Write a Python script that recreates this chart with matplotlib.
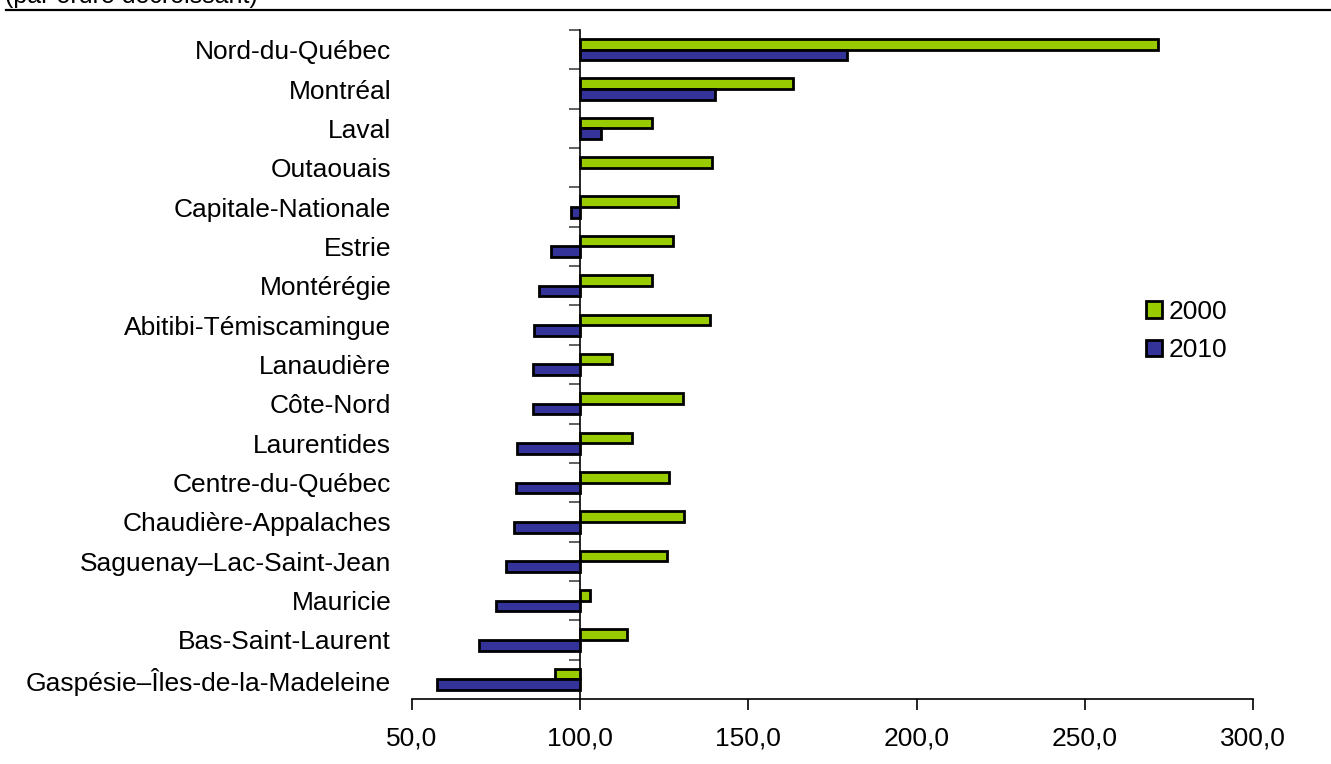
import numpy as np
import matplotlib
matplotlib.use("Agg")
import matplotlib.pyplot as plt
from matplotlib.lines import Line2D
from matplotlib.patches import Patch
from matplotlib.ticker import FuncFormatter

regions = [
    "Nord-du-Québec", "Montréal", "Laval", "Outaouais", "Capitale-Nationale",
    "Estrie", "Montérégie", "Abitibi-Témiscamingue", "Lanaudière", "Côte-Nord",
    "Laurentides", "Centre-du-Québec", "Chaudière-Appalaches",
    "Saguenay–Lac-Saint-Jean", "Mauricie", "Bas-Saint-Laurent",
    "Gaspésie–Îles-de-la-Madeleine",
]
val_2000 = [271.7, 163.4, 121.4, 139.1, 129.0, 127.5, 121.2, 138.6, 109.4,
            130.7, 115.4, 126.5, 130.9, 125.9, 102.8, 114.0, 92.4]
val_2010 = [179.2, 140.1, 106.1, np.nan, 97.2, 91.3, 87.9, 86.2, 86.1,
            85.9, 81.2, 80.8, 80.4, 77.9, 75.1, 70.0, 57.4]
series_labels = ["2000", "2010"]
xticks = [50, 100, 150, 200, 250, 300]
base = 100.0

green = "#99CC00"
blue = "#333399"

plt.rcParams["font.family"] = ["Liberation Sans", "DejaVu Sans"]

W, H = 1331, 764
fig = plt.figure(figsize=(W / 100, H / 100), dpi=100)
ax = fig.add_axes([412 / W, 1 - 699 / H, (1253 - 412) / W, (699 - 30) / H])

y = np.arange(len(regions))
h = 0.27
off = 0.135
v0 = np.array(val_2000)
v1 = np.array(val_2010)
ax.barh(y - off, v0 - base, left=base, height=h, color=green,
        edgecolor="black", linewidth=2.0)
ax.barh(y + off, v1 - base, left=base, height=h, color=blue,
        edgecolor="black", linewidth=2.0)

ax.set_xlim(50, 300)
ax.set_ylim(len(regions) - 0.5, -0.5)

ax.set_xticks(xticks)
ax.xaxis.set_major_formatter(FuncFormatter(lambda v, p: f"{v:.1f}".replace(".", ",")))
ax.tick_params(axis="x", direction="out", length=8, width=1.2, pad=12,
               labelsize=19, colors="black")

ax.set_yticks(y)
ax.set_yticklabels(regions)
ax.tick_params(axis="y", length=0, pad=15, labelsize=19)

for s in ["top", "right", "left"]:
    ax.spines[s].set_visible(False)
ax.spines["bottom"].set_linewidth(1.2)

# vertical axis crossing at 100
sec = ax.secondary_yaxis((base - 50) / 250)
sec.set_yticks(np.arange(-0.5, len(regions) - 1, 1.0))
sec.set_yticklabels([])
sec.tick_params(direction="out", length=8, width=1.2, colors="#444444")
sec.spines["left"].set_color("black")
sec.spines["left"].set_linewidth(1.2)

handles = [Patch(facecolor=green, edgecolor="black", linewidth=2.0),
           Patch(facecolor=blue, edgecolor="black", linewidth=2.0)]
fig.legend(handles, series_labels, loc="center left",
           bbox_to_anchor=(1122 / W, 1 - 331 / H), frameon=False,
           fontsize=19, handlelength=0.6, handleheight=0.6,
           handletextpad=0.25, labelspacing=0.55)

fig.add_artist(Line2D([6 / W, 1], [1 - 9.5 / H, 1 - 9.5 / H],
                      transform=fig.transFigure, color="black", linewidth=1.6))
fig.text(5 / W, 1 - 2.5 / H, "(par ordre décroissant)", fontsize=18,
         ha="left", va="baseline")

fig.savefig("out.png", dpi=100)
